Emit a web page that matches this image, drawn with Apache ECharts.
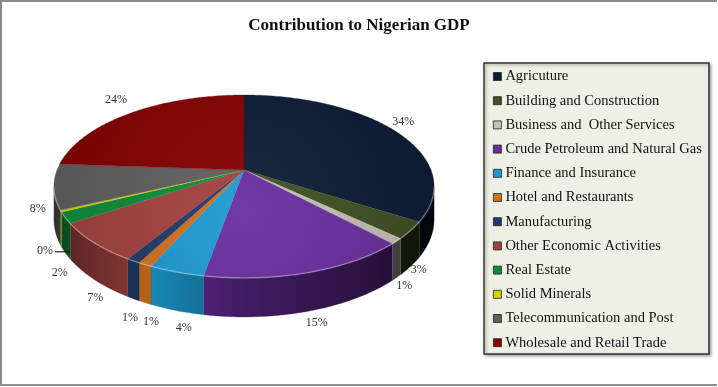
<!DOCTYPE html>
<html><head><meta charset="utf-8">
<script src="https://cdn.jsdelivr.net/npm/echarts@6/dist/echarts.min.js"></script>
<style>html,body{margin:0;padding:0;background:#fff}#c{width:718px;height:387px}</style>
</head><body><div id="c"></div>
<script>
const chartTitle = 'Contribution to Nigerian GDP';
const categories = ['Agricuture','Building and Construction','Business and  Other Services','Crude Petroleum and Natural Gas','Finance and Insurance','Hotel and Restaurants','Manufacturing','Other Economic Activities','Real Estate','Solid Minerals','Telecommunication and Post','Wholesale and Retail Trade'];
const values = [34, 3, 1, 15, 4, 1, 1, 7, 2, 0.3, 8, 24];
const colors = ['#0c1b35','#3f5022','#c8c0b4','#6a2d9f','#1c9ad2','#d2701c','#1f3a68','#a4413f','#0f8c3c','#dcd200','#5f5f5f','#860000'];

// layout of the tilted pie
const CX = 244, CY = 170, A = 187, B = 88.5, K = 0.18, H = 32;
const total = values.reduce((s, v) => s + v, 0);
const starts = [];
values.reduce((s, v, i) => { starts[i] = s; return s + v; }, 0);
const SIL0 = Math.acos(-K), SIL1 = 2 * Math.PI - SIL0;

function proj(th, r) {
  const u = r * Math.sin(th), v = -r * Math.cos(th);
  const d = 1 - K * v;
  return [CX + A * u / d, CY + B * v / d, d];
}
function shade(hex, f) { // f<0 darken, f>0 lighten
  const n = parseInt(hex.slice(1), 16);
  let r = (n >> 16) & 255, g = (n >> 8) & 255, b = n & 255;
  const t = f < 0 ? 0 : 255, p = Math.abs(f);
  r = Math.round(r + (t - r) * p); g = Math.round(g + (t - g) * p); b = Math.round(b + (t - b) * p);
  return 'rgb(' + r + ',' + g + ',' + b + ')';
}
function arcPts(a0, a1, withWall) {
  const n = Math.max(2, Math.ceil((a1 - a0) / 0.015));
  const pts = [];
  for (let j = 0; j <= n; j++) {
    const p = proj(a0 + (a1 - a0) * j / n, 1);
    pts.push(withWall ? [p[0], p[1] + H / p[2]] : [p[0], p[1]]);
  }
  return pts;
}
function angles(i) {
  const a0 = starts[i] / total * 2 * Math.PI;
  return [a0, a0 + values[i] / total * 2 * Math.PI];
}

// label placement (computed from the data, with simple collision handling)
const labels = values.map((val, i) => {
  const [a0, a1] = angles(i);
  const m = (a0 + a1) / 2;
  const u = Math.sin(m), v = -Math.cos(m);
  const p = proj(m, 1);
  const pct = Math.round(val / total * 100);
  if (pct === 0) {
    const y = p[1] + H / p[2] + 6;
    return { text: pct + '%', leader: true, lx: p[0] - 8, ly: y - 1, cx: p[0] - 18, line: [[p[0] + 8, y], [p[0] - 6, y]] };
  }
  const wallOff = v > -0.3 ? (H / p[2]) * Math.min(1, (v + 0.3)) : 0;
  const lx = p[0] + (u > 0 ? 10 : 22) * u * (1 - Math.max(0, v)) + 8 * Math.max(0, v);
  const ly = p[1] + wallOff + (v < 0 ? 18 * v : 12 * v) + (u < 0 ? 20 * (-u) * Math.max(0, v) : 0);
  return { text: pct + '%', leader: false, lx: lx, ly: ly, cx: lx, u: u };
});
for (let i = 0; i < labels.length; i++) {
  for (let j = 0; j < labels.length; j++) {
    if (i === j) continue;
    const L = labels[i], M = labels[j];
    if (L.leader) continue;
    if (Math.abs(L.ly - M.ly) < 12 && Math.abs(L.cx - M.cx) < 21) {
      if (M.leader) { L.ly = M.ly + 22; }
      else if (Math.abs(L.cx - CX) > Math.abs(M.cx - CX)) {
        L.lx = L.cx = M.cx + (L.cx < M.cx ? -21 : 21);
      }
    }
  }
}

function renderItem(params, api) {
  const i = params.dataIndex;
  const [a0, a1] = angles(i);
  const base = colors[i];
  const children = [];
  const top = [[CX, CY]].concat(arcPts(a0, a1, false));
  children.push({
    type: 'polygon', z2: 2, shape: { points: top },
    style: { fill: new echarts.graphic.RadialGradient(CX, CY + 40, 230, [
      { offset: 0, color: shade(base, 0.06) }, { offset: 1, color: shade(base, -0.14) }], true),
      stroke: base, lineWidth: 0.3 }
  });
  const w0 = Math.max(a0, SIL0), w1 = Math.min(a1, SIL1);
  if (w1 > w0) {
    const t = arcPts(w0, w1, false), b = arcPts(w0, w1, true).reverse();
    children.push({
      type: 'polygon', z2: 1, shape: { points: t.concat(b) },
      style: { fill: new echarts.graphic.LinearGradient(CX - A - 5, 0, CX + A + 5, 0, [
        { offset: 0, color: shade(base, -0.5) },
        { offset: 0.25, color: shade(base, -0.12) },
        { offset: 0.5, color: shade(base, -0.38) },
        { offset: 0.8, color: shade(base, -0.58) },
        { offset: 1, color: shade(base, -0.78) }], true),
        stroke: shade(base, -0.3), lineWidth: 0.3 }
    });
    children.push({
      type: 'polyline', z2: 3, shape: { points: t },
      style: { stroke: 'rgba(255,255,255,0.3)', lineWidth: 1.5, fill: null }
    });
  }
  const L = labels[i];
  const font = '12px "Liberation Serif", serif';
  if (L.leader) {
    children.push({ type: 'polyline', z2: 10, shape: { points: L.line }, style: { stroke: '#000', lineWidth: 1, fill: null } });
    children.push({ type: 'text', z2: 10, style: { text: L.text, x: L.lx, y: L.ly, align: 'right', verticalAlign: 'middle', fill: '#333', font: font } });
  } else {
    children.push({ type: 'text', z2: 10, style: { text: L.text, x: L.lx, y: L.ly, align: 'center', verticalAlign: 'middle', fill: '#333', font: font } });
  }
  return { type: 'group', children: children };
}

const chart = echarts.init(document.getElementById('c'));
chart.setOption({
  animation: false,
  title: { text: chartTitle, left: 'center', top: 12,
    textStyle: { fontFamily: 'Liberation Serif', fontSize: 17, fontWeight: 'bold', color: '#111' } },
  graphic: [
    { type: 'polyline', z: 1, shape: { points: [[717, 1], [1, 1], [1, 385], [717, 385]] }, style: { stroke: '#8c8c8c', lineWidth: 2, fill: null } },
    { type: 'rect', z: 1, shape: { x: 484, y: 63, width: 225, height: 291 },
      style: { fill: '#eef0e5', stroke: '#333', lineWidth: 1.5, shadowBlur: 3, shadowOffsetX: 1.5, shadowOffsetY: 1.5, shadowColor: 'rgba(0,0,0,0.35)' } }
  ],
  legend: {
    data: categories, orient: 'vertical', left: 488, top: 64, selectedMode: false,
    itemWidth: 8, itemHeight: 8, itemGap: 9.2, icon: 'rect', z: 5,
    itemStyle: { borderColor: '#222', borderWidth: 0.8 },
    textStyle: { fontFamily: 'Liberation Serif', fontSize: 14.5, color: '#111', lineHeight: 14, padding: [0, 0, 0, -1] }
  },
  series: [
    { type: 'custom', coordinateSystem: 'none', renderItem: renderItem, silent: true,
      data: values.map((v, i) => ({ name: categories[i], value: v })) },
    { type: 'pie', center: [-60, -60], radius: 4, silent: true, label: { show: false }, labelLine: { show: false },
      data: values.map((v, i) => ({ name: categories[i], value: v, itemStyle: { color: colors[i] } })) }
  ]
});
</script></body></html>
